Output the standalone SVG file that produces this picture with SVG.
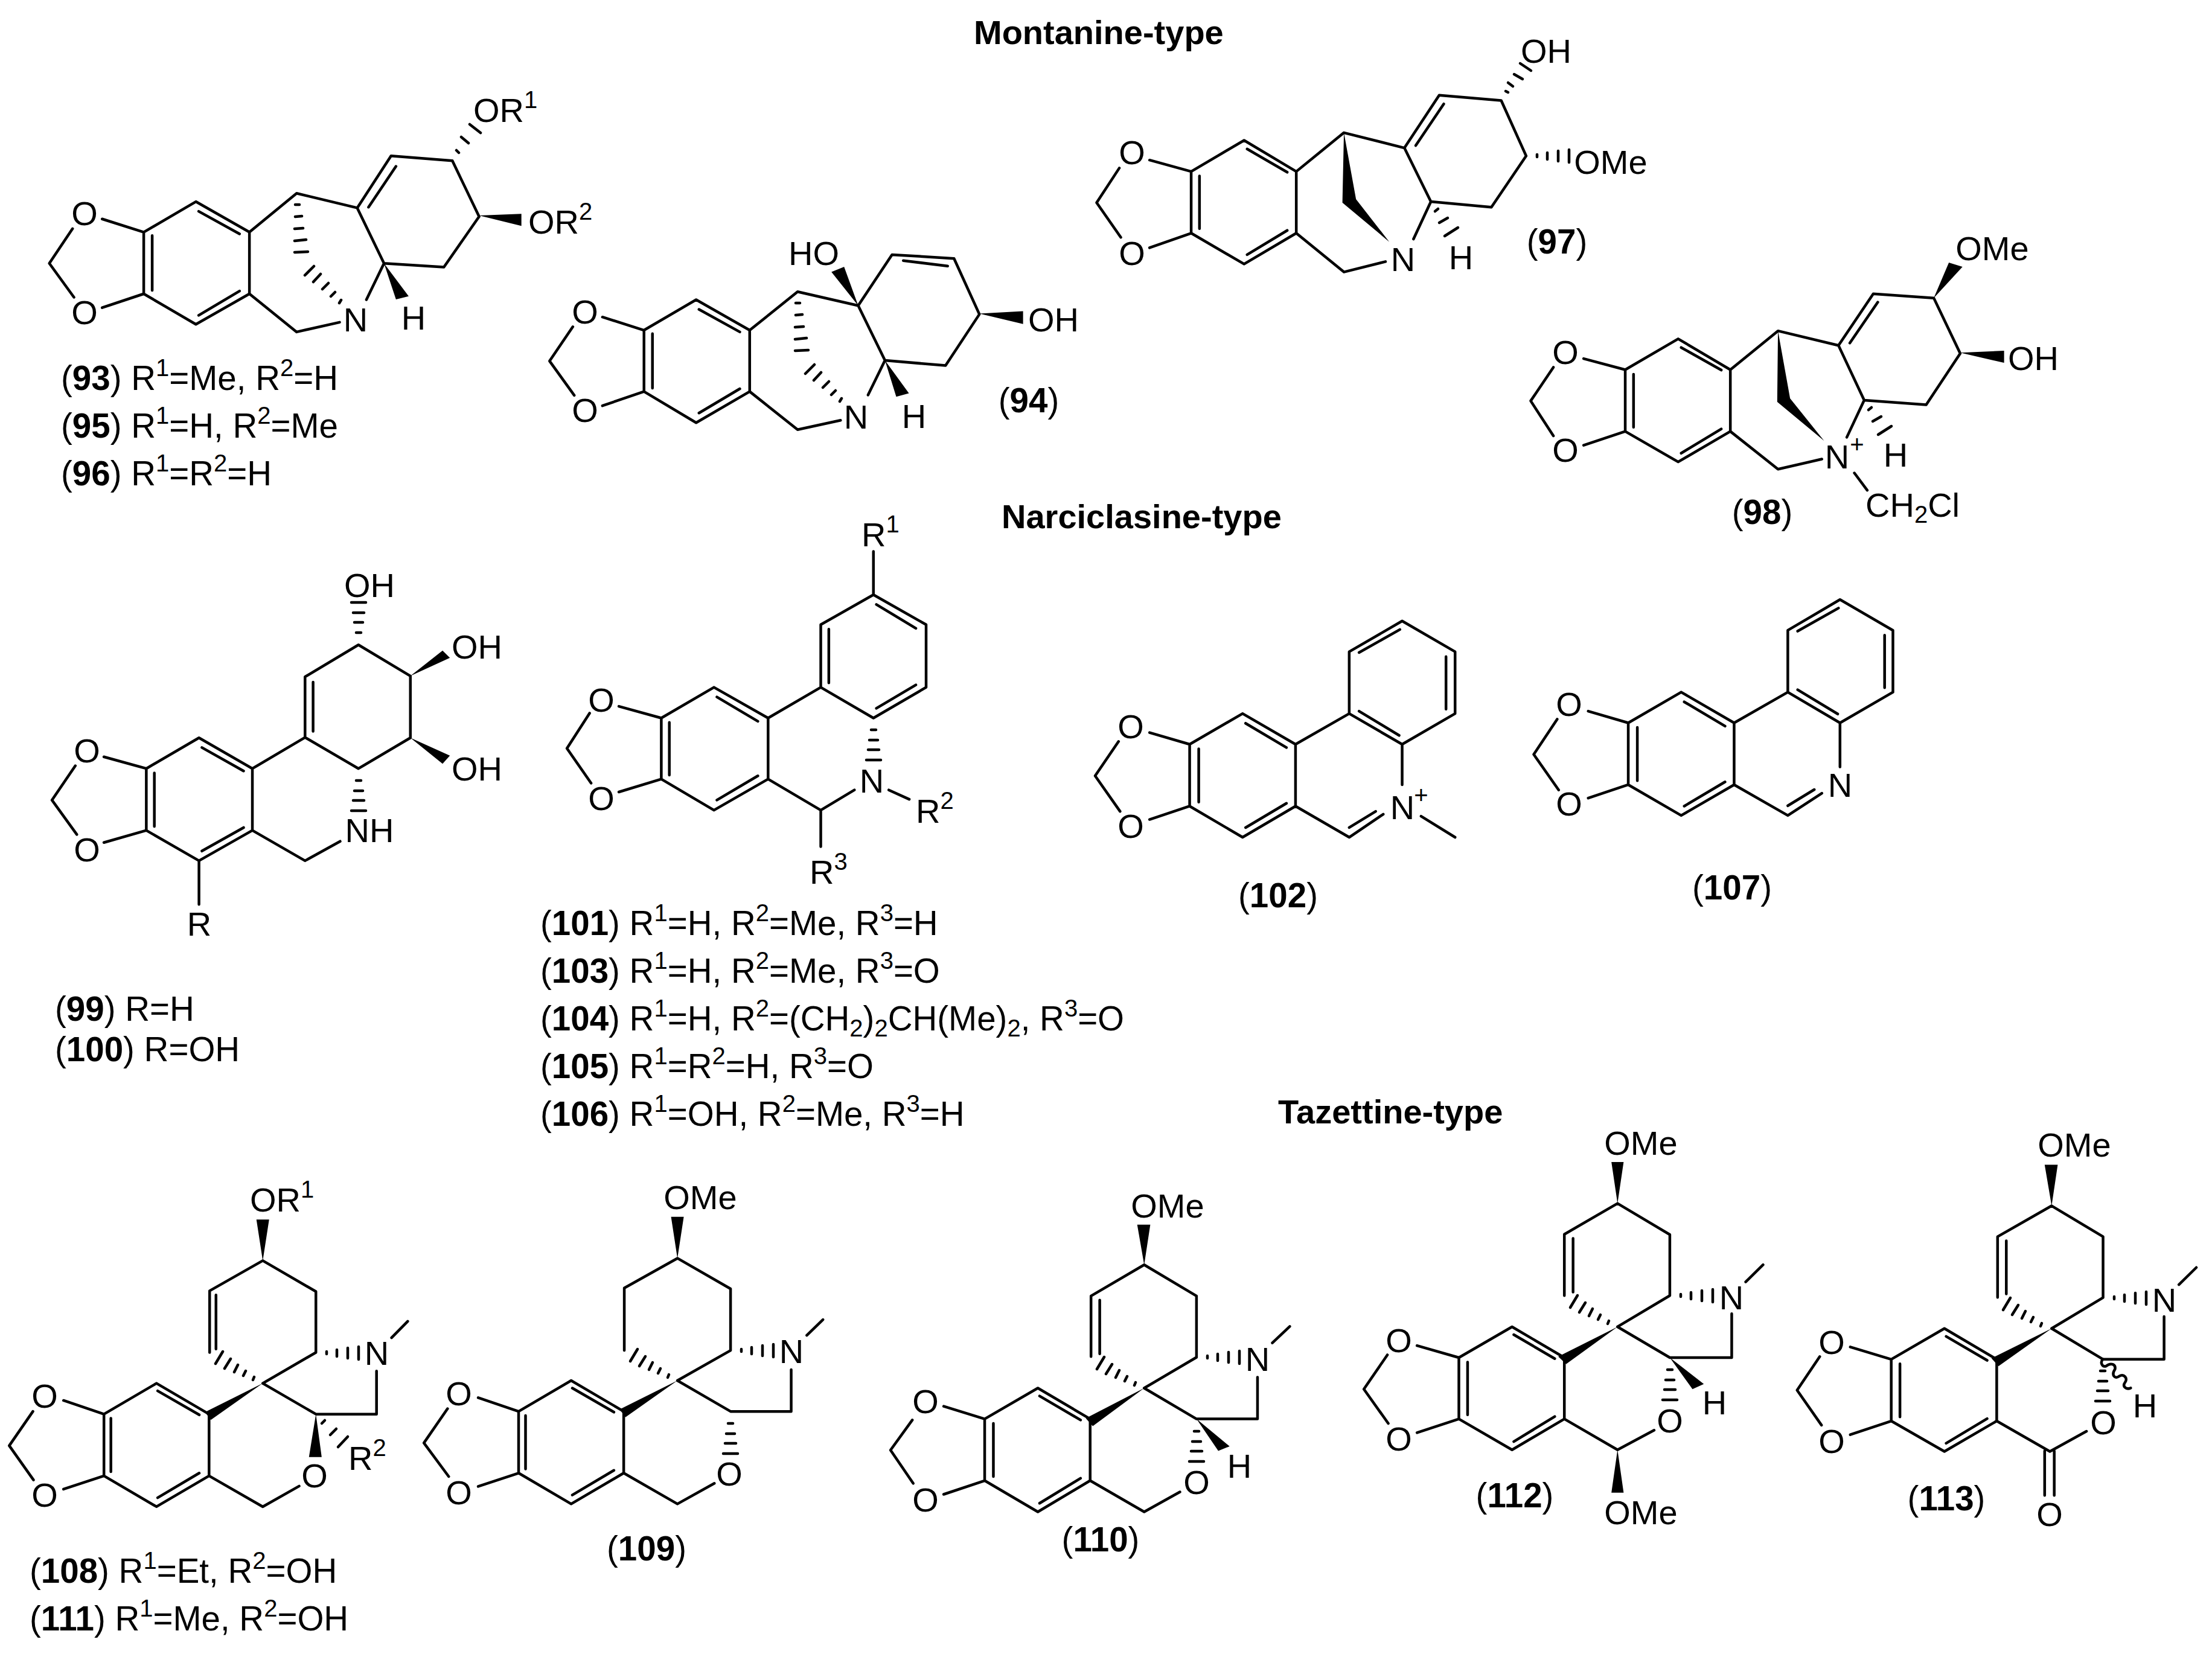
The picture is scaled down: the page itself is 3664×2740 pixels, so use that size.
<svg xmlns="http://www.w3.org/2000/svg" xmlns:xlink="http://www.w3.org/1999/xlink" width="3664" height="2740" viewBox="0 0 3664 2740">
<style>
.b{fill:none;stroke:#000;stroke-width:4.5;stroke-linecap:round;stroke-linejoin:round;vector-effect:non-scaling-stroke}
.w{fill:#000;stroke:none}
text{font-family:"Liberation Sans",Arial,sans-serif;font-size:56px;fill:#000}
.m{text-anchor:middle}
.h{font-weight:bold}
.s{font-size:40px}
.n{font-weight:bold}
.r{font-size:56.5px}
</style>
<defs>
<path id="hSp" class="b" d="M-16,-5L-14,-10M-32,-12L-28,-20M-47,-18L-41,-30M-63,-24L-53,-40M-78,-32L-66,-52"/>
<path id="hN" class="b" d="M18,-2L18,2M35,-5L35,6M53,-8L53,9M71,-10L71,11"/>
<path id="hV" class="b" d="M-4,20L4,20M-7,37L7,37M-9,53L9,53M-12,70L12,70"/>
<path id="hBr" class="b" d="M-3,19L4,19M-3,39L8,38M-4,59L10,58M-4,79L15,77M-4,98L18,97M13,136L28,121M27,147L39,134M42,159L52,149M56,171L63,164M70,182L73,177"/>
<path id="hH" class="b" d="M7,16L12,12M14,35L28,27M23,57L45,43"/>
</defs>
<g id="titles">
<text class="h" x="1613" y="73">Montanine-type</text>
<text class="h" x="1659" y="875">Narciclasine-type</text>
<text class="h" x="2117" y="1861">Tazettine-type</text>
</g>
<g id="c93">
<g transform="matrix(1.1671 0 0 .574 0 0)">
<path class="b" d="M103,660L70,760L105,858M145,632L204,670M145,888L204,848M204,670L278,582L354,670L354,848L278,936L204,848L204,670M216,680L216,838M282,610L340,675M340,840L282,910M354,670L421,558L507,600M354,848L421,958L482,930M507,600L555,450L642,464L680,625L630,771L545,760L507,600M523,598L562,480M545,760L520,865"/>
<path class="w" d="M680,622L740,617L740,652ZM545,760L562,864L580,855Z"/>
</g>
<use href="#hBr" x="492" y="320"/>
<path class="b" d="M756,249L760,253M764,227L776,237M778,206L796,220"/>
<text class="m" x="140" y="373">O</text><text class="m" x="140" y="537">O</text>
<text class="m" x="589" y="549">N</text><text class="m" x="685" y="546">H</text>
<text x="784" y="202">OR<tspan class="s" dy="-23">1</tspan></text>
<text x="875" y="387">OR<tspan class="s" dy="-23">2</tspan></text>
<text class="r" x="101" y="646">(<tspan class="n">93</tspan>) R<tspan class="s" dy="-23">1</tspan><tspan dy="23">=Me, R</tspan><tspan class="s" dy="-23">2</tspan><tspan dy="23">=H</tspan></text>
<text class="r" x="101" y="725">(<tspan class="n">95</tspan>) R<tspan class="s" dy="-23">1</tspan><tspan dy="23">=H, R</tspan><tspan class="s" dy="-23">2</tspan><tspan dy="23">=Me</tspan></text>
<text class="r" x="101" y="804">(<tspan class="n">96</tspan>) R<tspan class="s" dy="-23">1</tspan><tspan dy="23">=R</tspan><tspan class="s" dy="-23">2</tspan><tspan dy="23">=H</tspan></text>
</g>
<g id="c94">
<g transform="matrix(1.1671 0 0 .574 0 0)">
<path class="b" d="M813,943L780,1042L815,1141M855,915L914,953M855,1171L914,1130M914,953L988,865L1064,953L1064,1130L988,1220L914,1130L914,953M926,963L926,1120M992,893L1050,958M1050,1122L992,1192M1064,953L1132,842L1218,882M1064,1130L1132,1240L1193,1213M1218,882L1266,735L1354,746L1390,907L1342,1055L1256,1040L1218,882M1282,752L1345,768M1256,1040L1232,1140"/>
<path class="w" d="M1218,882L1180,785L1198,770ZM1390,905L1452,898L1452,935ZM1256,1040L1272,1145L1290,1135Z"/>
</g>
<use href="#hBr" x="1321" y="483"/>
<text class="m" x="1348" y="439">HO</text><text class="m" x="1745" y="549">OH</text>
<text class="m" x="969" y="536">O</text><text class="m" x="969" y="699">O</text>
<text class="m" x="1418" y="710">N</text><text class="m" x="1514" y="709">H</text>
<text class="m r" x="1704" y="683">(<tspan class="n">94</tspan>)</text>
</g>
<g id="c97">
<g transform="matrix(1.2526 0 0 .574 1700 0)">
<path class="b" d="M123,485L93,585L125,685M163,462L218,495M163,715L218,673M218,495L288,405L357,495L357,673L288,762L218,673L218,495M229,508L229,660M292,430L345,497M345,665L292,735M357,495L420,383L500,427M357,673L420,785L475,755M500,427L546,275L628,290L661,450L615,598L535,582L500,427M515,420L552,300M535,582L512,690"/>
<path class="w" d="M420,383L436,575L480,698L418,585Z"/>
</g>
<path class="b" d="M2494,151L2498,153M2498,137L2506,143M2508,123L2522,131M2518,105L2536,117"/>
<use href="#hN" x="2528" y="258"/>
<use href="#hH" x="2370" y="334"/>
<text class="m" x="1875" y="272">O</text><text class="m" x="1875" y="439">O</text>
<text class="m" x="2561" y="104">OH</text><text class="m" x="2668" y="288">OMe</text>
<text class="m" x="2324" y="449">N</text><text class="m" x="2420" y="446">H</text>
<text class="m r" x="2579" y="420">(<tspan class="n">97</tspan>)</text>
</g>
<g id="c98">
<g transform="matrix(1.2526 0 0 .574 1700 0)">
<path class="b" d="M697,1060L667,1157L697,1258M737,1035L792,1067M737,1285L792,1245M792,1067L862,978L931,1067L931,1245L862,1333L792,1245L792,1067M803,1080L803,1233M866,1003L919,1068M919,1238L866,1308M931,1067L994,955L1074,997M931,1245L994,1354L1052,1325M1074,997L1120,848L1200,860L1235,1020L1190,1168L1108,1155L1074,997M1089,990L1126,872M1108,1155L1085,1262M1095,1365L1112,1415"/>
<path class="w" d="M994,955L1010,1150L1055,1272L993,1160ZM1200,860L1220,758L1238,770ZM1235,1018L1293,1012L1293,1047Z"/>
</g>
<use href="#hH" x="3088" y="663"/>
<text class="m" x="2593" y="603">O</text><text class="m" x="2593" y="765">O</text>
<text class="m" x="3300" y="431">OMe</text><text class="m" x="3368" y="613">OH</text>
<text class="m" x="3043" y="776">N</text><text class="s m" x="3076" y="750">+</text><text class="m" x="3140" y="773">H</text>
<text x="3090" y="856">CH<tspan class="s" dy="10">2</tspan><tspan dy="-10">Cl</tspan></text>
<text class="m r" x="2919" y="868">(<tspan class="n">98</tspan>)</text>
</g>
<g id="c99">
<g transform="matrix(1.2117 0 0 .6696 0 850)">
<path class="b" d="M103,625L71,710L105,795M142,603L200,632M142,815L200,785M200,632L272,556L345,632L345,785L272,860L200,785L200,632M211,643L211,775M276,580L333,638M333,778L276,836M345,632L417,555L417,405L490,326L561,403L561,556L490,632L417,555M428,540L428,418M345,785L417,860L465,812M272,860L272,968"/>
<path class="w" d="M561,403L605,340L615,358ZM561,556L615,600L605,620Z"/>
</g>
<use href="#hV" transform="translate(594 1068) scale(1 -1)"/>
<use href="#hV" x="594" y="1273"/>
<text class="m" x="144" y="1263">O</text><text class="m" x="144" y="1427">O</text>
<text class="m" x="612" y="989">OH</text><text class="m" x="790" y="1091">OH</text><text class="m" x="790" y="1293">OH</text>
<text class="m" x="612" y="1395">NH</text><text class="m" x="330" y="1550">R</text>
<text class="r" x="91" y="1691">(<tspan class="n">99</tspan>) R=H</text>
<text class="r" x="91" y="1758">(<tspan class="n">100</tspan>) R=OH</text>
</g>
<g id="c101">
<g transform="matrix(1.2117 0 0 .6696 0 850)">
<path class="b" d="M806,495L775,582L808,668M846,478L904,507M846,690L904,658M904,507L976,431L1050,507L1050,658L976,735L904,658L904,507M915,518L915,648M980,455L1036,515M1036,650L980,710M1050,507L1122,431L1122,276L1194,202L1266,276L1266,431L1194,507L1122,431M1133,420L1133,287M1198,226L1252,285M1252,425L1198,483M1194,202L1194,95M1050,658L1122,735L1168,685M1122,735L1122,825M1215,685L1243,708"/>
</g>
<use href="#hV" x="1447" y="1189"/>
<text class="m" x="996" y="1179">O</text><text class="m" x="996" y="1342">O</text>
<text x="1427" y="905">R<tspan class="s" dy="-23">1</tspan></text>
<text class="m" x="1444" y="1313">N</text>
<text x="1517" y="1363">R<tspan class="s" dy="-23">2</tspan></text>
<text x="1341" y="1464">R<tspan class="s" dy="-23">3</tspan></text>
<text class="r" x="895" y="1549">(<tspan class="n">101</tspan>) R<tspan class="s" dy="-23">1</tspan><tspan dy="23">=H, R</tspan><tspan class="s" dy="-23">2</tspan><tspan dy="23">=Me, R</tspan><tspan class="s" dy="-23">3</tspan><tspan dy="23">=H</tspan></text>
<text class="r" x="895" y="1628">(<tspan class="n">103</tspan>) R<tspan class="s" dy="-23">1</tspan><tspan dy="23">=H, R</tspan><tspan class="s" dy="-23">2</tspan><tspan dy="23">=Me, R</tspan><tspan class="s" dy="-23">3</tspan><tspan dy="23">=O</tspan></text>
<text class="r" x="895" y="1707">(<tspan class="n">104</tspan>) R<tspan class="s" dy="-23">1</tspan><tspan dy="23">=H, R</tspan><tspan class="s" dy="-23">2</tspan><tspan dy="23">=(CH</tspan><tspan class="s" dy="10">2</tspan><tspan dy="-10">)</tspan><tspan class="s" dy="10">2</tspan><tspan dy="-10">CH(Me)</tspan><tspan class="s" dy="10">2</tspan><tspan dy="-10">, R</tspan><tspan class="s" dy="-23">3</tspan><tspan dy="23">=O</tspan></text>
<text class="r" x="895" y="1786">(<tspan class="n">105</tspan>) R<tspan class="s" dy="-23">1</tspan><tspan dy="23">=R</tspan><tspan class="s" dy="-23">2</tspan><tspan dy="23">=H, R</tspan><tspan class="s" dy="-23">3</tspan><tspan dy="23">=O</tspan></text>
<text class="r" x="895" y="1865">(<tspan class="n">106</tspan>) R<tspan class="s" dy="-23">1</tspan><tspan dy="23">=OH, R</tspan><tspan class="s" dy="-23">2</tspan><tspan dy="23">=Me, R</tspan><tspan class="s" dy="-23">3</tspan><tspan dy="23">=H</tspan></text>
</g>
<g id="c102">
<g transform="matrix(1.2526 0 0 .6696 1700 850)">
<path class="b" d="M122,565L91,650L124,738M163,543L216,572M163,758L216,725M216,572L286,496L356,572L356,725L286,802L216,725L216,572M228,583L228,715M290,520L344,580M344,718L290,778M356,572L427,496L427,343L497,267L567,343L567,496L497,572L427,496M440,345L494,288M555,355L555,485M493,550L440,490M497,572L497,672M356,725L427,802L472,745M427,778L462,738M522,750L567,802"/>
</g>
<text class="m" x="1873" y="1223">O</text><text class="m" x="1873" y="1388">O</text>
<text class="m" x="2323" y="1357">N</text><text class="s m" x="2354" y="1331">+</text>
<text class="m r" x="2117" y="1503">(<tspan class="n">102</tspan>)</text>
</g>
<g id="c107">
<g transform="matrix(1.2526 0 0 .6696 1700 850)">
<path class="b" d="M702,510L671,597L704,685M743,490L796,519M743,705L796,672M796,519L866,443L936,519L936,672L866,748L796,672L796,519M808,530L808,662M870,467L924,527M924,665L870,725M936,519L1007,443L1007,290L1076,214L1146,290L1146,443L1076,519L1007,443M1020,292L1074,235M1135,302L1135,432M1073,497L1020,437M1076,519L1076,628M936,672L1007,748L1052,693M1007,724L1042,684"/>
</g>
<text class="m" x="2599" y="1186">O</text><text class="m" x="2599" y="1351">O</text>
<text class="m" x="3048" y="1320">N</text>
<text class="m r" x="2869" y="1490">(<tspan class="n">107</tspan>)</text>
</g>
<g id="c108">
<g transform="matrix(.9566 0 0 .5676 0 1850)">
<path class="b" d="M57,860L16,960L58,1060M110,828L180,868M110,1087L180,1048M180,868L271,778L362,868L362,1048L271,1138L180,1048L180,868M192,880L192,1036M273,800L345,870M345,1040L273,1112M362,1048L455,1138L518,1078M455,778L547,868L652,868L652,742M455,778L547,688L547,510L455,420L363,508L363,688M374,520L374,678M678,645L706,597"/>
<path class="w" d="M455,778L355,862L365,885ZM455,420L444,300L466,300ZM547,868L535,993L557,993Z"/>
</g>
<use href="#hSp" x="435" y="2291"/><use href="#hN" x="523" y="2241"/>
<path class="b" d="M533,2358L538,2353M547,2377L557,2367M560,2397L576,2380"/>
<text class="m" x="74" y="2332">O</text><text class="m" x="74" y="2496">O</text>
<text x="414" y="2007">OR<tspan class="s" dy="-23">1</tspan></text>
<text class="m" x="624" y="2261">N</text><text class="m" x="521" y="2464">O</text>
<text x="577" y="2435">R<tspan class="s" dy="-23">2</tspan></text>
<text class="r" x="49" y="2622">(<tspan class="n">108</tspan>) R<tspan class="s" dy="-23">1</tspan><tspan dy="23">=Et, R</tspan><tspan class="s" dy="-23">2</tspan><tspan dy="23">=OH</tspan></text>
<text class="r" x="49" y="2701">(<tspan class="n">111</tspan>) R<tspan class="s" dy="-23">1</tspan><tspan dy="23">=Me, R</tspan><tspan class="s" dy="-23">2</tspan><tspan dy="23">=OH</tspan></text>
</g>
<g id="c109">
<g transform="matrix(.9566 0 0 .5676 0 1850)">
<path class="b" d="M775,852L734,952L777,1050M828,820L898,860M828,1079L898,1040M898,860L989,770L1080,860L1080,1040L989,1130L898,1040L898,860M910,872L910,1028M991,792L1063,862M1063,1032L991,1104M1080,1040L1173,1130L1237,1070M1173,770L1265,860L1370,860L1370,738M1173,770L1265,682L1265,502L1173,413L1081,500L1081,682M1397,638L1425,592"/>
<path class="w" d="M1173,770L1073,854L1083,877ZM1173,413L1162,292L1184,292Z"/>
</g>
<use href="#hSp" x="1122" y="2287"/><use href="#hN" x="1210" y="2237"/><use href="#hV" x="1210" y="2338"/>
<text class="m" x="760" y="2328">O</text><text class="m" x="760" y="2492">O</text>
<text class="m" x="1160" y="2003">OMe</text><text class="m" x="1311" y="2258">N</text><text class="m" x="1208" y="2461">O</text>
<text class="m r" x="1071" y="2585">(<tspan class="n">109</tspan>)</text>
</g>
<g id="c110">
<g transform="matrix(1.4439 0 0 .5676 1400 1850)">
<path class="b" d="M77,885L52,973L78,1070M113,845L160,882M113,1102L160,1062M160,882L221,792L281,882L281,1062L221,1153L160,1062L160,882M170,895L170,1050M223,815L270,885M270,1055L223,1128M281,1062L343,1153L384,1095M343,792L403,882L473,882L473,760M343,792L403,702L403,523L343,432L282,523L282,700M292,535L292,692M490,660L510,612"/>
<path class="w" d="M343,792L276,880L284,903ZM343,432L335,315L350,315ZM403,882L428,975L441,962Z"/>
</g>
<use href="#hSp" x="1895" y="2300"/><use href="#hN" x="1982" y="2248"/><use href="#hV" x="1982" y="2351"/>
<text class="m" x="1533" y="2341">O</text><text class="m" x="1533" y="2504">O</text>
<text class="m" x="1934" y="2017">OMe</text><text class="m" x="2083" y="2271">N</text><text class="m" x="1982" y="2475">O</text><text class="m" x="2053" y="2448">H</text>
<text class="m r" x="1823" y="2570">(<tspan class="n">110</tspan>)</text>
</g>
<g id="c112">
<g transform="matrix(1.4439 0 0 .5676 1400 1850)">
<path class="b" d="M622,695L595,795L623,895M656,668L704,703M656,922L704,882M704,703L765,613L825,703L825,882L765,972L704,882L704,703M714,716L714,870M767,636L814,706M814,875L767,948M825,882L886,972L928,915M886,613L946,703L1017,703L1017,575M886,613L946,522L946,344L886,253L825,343L825,522M835,355L835,512M1033,482L1053,432"/>
<path class="w" d="M886,613L818,700L827,722ZM886,253L879,132L893,132ZM946,703L972,795L985,780ZM886,972L879,1097L893,1097Z"/>
</g>
<use href="#hSp" x="2679" y="2198"/><use href="#hN" x="2766" y="2146"/><use href="#hV" x="2766" y="2249"/>
<text class="m" x="2317" y="2240">O</text><text class="m" x="2317" y="2403">O</text>
<text class="m" x="2718" y="1913">OMe</text><text class="m" x="2868" y="2169">N</text><text class="m" x="2766" y="2373">O</text><text class="m" x="2840" y="2343">H</text><text class="m" x="2718" y="2525">OMe</text>
<text class="m r" x="2509" y="2497">(<tspan class="n">112</tspan>)</text>
</g>
<g id="c113">
<g transform="matrix(1.4439 0 0 .5676 1400 1850)">
<path class="b" d="M1118,700L1092,798L1120,900M1153,672L1200,708M1153,928L1200,888M1200,708L1261,618L1321,708L1321,888L1261,977L1200,888L1200,708M1210,721L1210,876M1263,641L1310,711M1310,881L1263,953M1321,888L1382,977L1424,918M1376,975L1376,1105M1387,975L1387,1105M1384,618L1443,708L1513,708L1513,583M1384,618L1443,528L1443,350L1384,260L1322,350L1322,527M1332,362L1332,517M1530,490L1550,440"/>
<path class="w" d="M1384,618L1315,705L1323,728ZM1384,260L1376,140L1391,140Z"/>
</g>
<use href="#hSp" x="3396" y="2202"/><use href="#hN" x="3484" y="2150"/><use href="#hV" x="3483" y="2251"/>
<g transform="matrix(.3333 0 0 .3333 3340 2150)"><path class="b" d="M430,305C415,320 425,345 445,340C470,320 495,330 490,355C470,385 490,405 510,390C535,375 555,400 540,420C525,440 545,458 568,448"/></g>
<text class="m" x="3034" y="2243">O</text><text class="m" x="3034" y="2407">O</text>
<text class="m" x="3436" y="1916">OMe</text><text class="m" x="3585" y="2173">N</text><text class="m" x="3484" y="2376">O</text><text class="m" x="3553" y="2348">H</text><text class="m" x="3395" y="2528">O</text>
<text class="m r" x="3224" y="2502">(<tspan class="n">113</tspan>)</text>
</g>
</svg>
